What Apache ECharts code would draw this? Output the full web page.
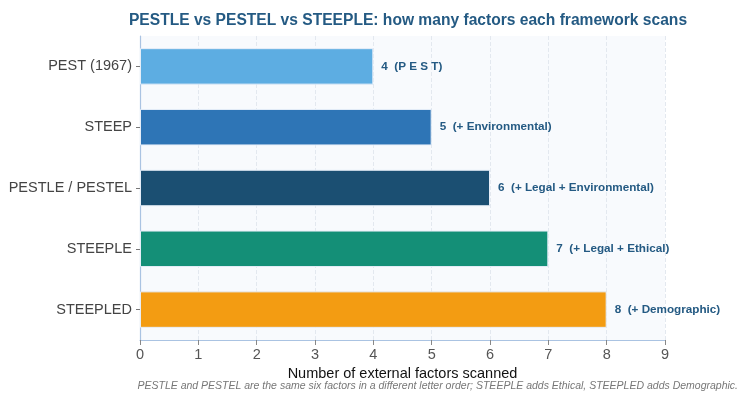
<!DOCTYPE html>
<html>
<head>
<meta charset="utf-8">
<script src="https://cdn.jsdelivr.net/npm/echarts@6/dist/echarts.min.js"></script>
<style>
  html, body { margin: 0; padding: 0; background: #fff; }
  #chart { width: 747px; height: 400px; }
</style>
</head>
<body>
<div id="chart"></div>
<script>
const frameworks = ["PEST (1967)", "STEEP", "PESTLE / PESTEL", "STEEPLE", "STEEPLED"];
const factor_counts = [4, 5, 6, 7, 8];
const added_notes = ["(P E S T)", "(+ Environmental)", "(+ Legal + Environmental)", "(+ Legal + Ethical)", "(+ Demographic)"];
const bar_colors = ["#5dade2", "#2e75b6", "#1b4f72", "#148f77", "#f39c12"];
const x_ticks = [0, 1, 2, 3, 4, 5, 6, 7, 8, 9];

const chart = echarts.init(document.getElementById("chart"));
const font = "'Liberation Sans', Arial, sans-serif";

chart.setOption({
  animation: false,
  backgroundColor: "#ffffff",
  title: {
    text: "PESTLE vs PESTEL vs STEEPLE: how many factors each framework scans",
    left: 403,
    textAlign: "center",
    top: 8,
    textStyle: { color: "#245a83", fontSize: 15.6, fontWeight: "bold", fontFamily: font },
  },
  graphic: [
    {
      type: "text",
      right: 9,
      top: 381,
      style: {
        text: "PESTLE and PESTEL are the same six factors in a different letter order; STEEPLE adds Ethical, STEEPLED adds Demographic.",
        fill: "#777",
        font: "italic 10.5px " + font,
      },
    },
  ],
  grid: {
    left: 140, right: 82, top: 36, bottom: 60,
    show: true, backgroundColor: "#f8fafd", borderWidth: 0,
  },
  xAxis: {
    type: "value",
    min: 0, max: x_ticks[x_ticks.length - 1], interval: 1,
    name: "Number of external factors scanned",
    nameLocation: "middle",
    nameGap: 26,
    nameTextStyle: { color: "#111", fontSize: 14.5, fontFamily: font },
    axisLine: { show: true, lineStyle: { color: "#aac3e2", width: 1.2 } },
    axisTick: { show: true, length: 5, lineStyle: { color: "#888" } },
    axisLabel: { color: "#555", fontSize: 14.5, margin: 7, fontFamily: font },
    splitLine: { show: true, lineStyle: { color: "#e3e8ef", type: "dashed" } },
  },
  yAxis: {
    type: "category",
    inverse: true,
    data: frameworks,
    axisLine: { show: true, lineStyle: { color: "#aac3e2", width: 1.2 } },
    axisTick: { show: true, alignWithLabel: true, length: 4, lineStyle: { color: "#777" } },
    axisLabel: { color: "#444", fontSize: 14.5, margin: 8, fontFamily: font },
    splitLine: { show: false },
  },
  series: [
    {
      type: "bar",
      barWidth: "60%",
      data: factor_counts.map((v, i) => ({
        value: v,
        itemStyle: { color: bar_colors[i] },
      })),
      itemStyle: { borderColor: "#e6eef8", borderWidth: 1 },
      label: {
        show: true,
        position: "right",
        distance: 8,
        color: "#245a83",
        fontSize: 11.7,
        fontWeight: "bold",
        fontFamily: font,
        formatter: (p) => p.value + "  " + added_notes[p.dataIndex],
      },
    },
  ],
});
</script>
</body>
</html>
